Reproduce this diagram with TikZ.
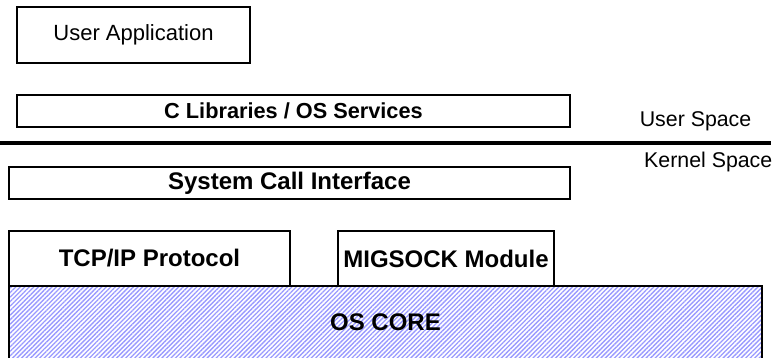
\documentclass[tikz,border=0pt]{standalone}
\usepackage{fontspec}
\setmainfont{Liberation Sans}
\usetikzlibrary{patterns.meta}

\begin{document}
\begin{tikzpicture}[x=0.75pt, y=-0.75pt,
  layer/.style={draw=black, line width=1.5pt, inner sep=0pt, fill=white},
  plain/.style={font=\fontsize{16}{19}\selectfont},
  heavy/.style={font=\fontsize{18}{21}\selectfont\bfseries}]
\useasboundingbox (0,0) rectangle (778,357);
% user space
\node[layer, plain, font=\fontsize{16.5}{19}\selectfont, minimum width=174.75pt, minimum height=42pt] (app) at (133.5,35) {User Application};
\node[layer, heavy, font=\fontsize{16.3}{19}\selectfont\bfseries, minimum width=414.75pt, minimum height=24pt] (clib) at (293.5,111) {C Libraries / OS Services};
% boundary
\coordinate (edgeL) at (0,143);
\coordinate (edgeR) at (771,143);
\draw[line width=3pt] (edgeL) -- (edgeR);
\node[plain, anchor=east] (user) at (756,121) {User Space};
\node[plain, anchor=east] (kernel) at (777,162) {Kernel Space};
% kernel space
\node[layer, heavy, minimum width=420.75pt, minimum height=24pt] (sci) at (289.5,183) {System Call Interface};
\node[layer, heavy, minimum width=564.75pt, minimum height=57pt,
  pattern={Lines[angle=45, distance=2.4pt, line width=1pt]}, pattern color=blue!40] (core) at (385.5,324) {};
\node[heavy] (corelbl) at (385.5,322) {OS CORE};
\node[layer, heavy, minimum width=210.75pt, minimum height=41.25pt] (tcp) at (149.5,258.5) {TCP/IP Protocol};
\node[layer, heavy, minimum width=162pt, minimum height=41.25pt] (mig) at (446,258.5) {MIGSOCK Module};
\end{tikzpicture}
\end{document}
